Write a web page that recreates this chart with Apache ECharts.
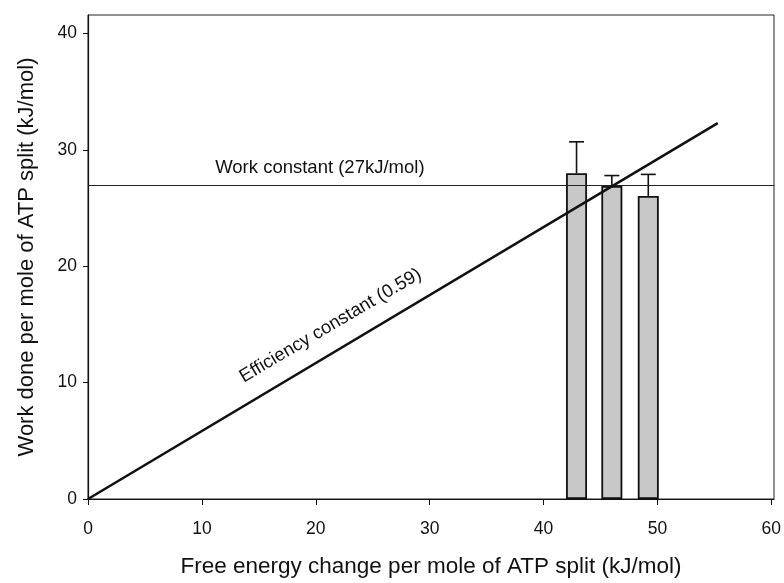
<!DOCTYPE html>
<html>
<head>
<meta charset="utf-8">
<script src="https://cdn.jsdelivr.net/npm/echarts@6/dist/echarts.min.js"></script>
<style>html,body{margin:0;padding:0;background:#fff;}#c{width:784px;height:583px;}</style>
</head>
<body>
<div id="c"></div>
<script>
// ---- data ----
var xTicks = [0, 10, 20, 30, 40, 50, 60];
var yTicks = [0, 10, 20, 30, 40];
var barX = [42.9, 46.0, 49.2];          // free energy change (kJ/mol)
var barMeans = [28.0, 26.9, 26.05];     // work done (kJ/mol)
var barUpper = [30.7, 27.8, 27.9];      // top of error bars
var effLineX = [0, 55.3];
var effLineY = [0, 32.3];
var workConstant = 27;
var workLabel = 'Work constant (27kJ/mol)';
var effLabel = 'Efficiency constant (0.59)';
var xTitle = 'Free energy change per mole of ATP split (kJ/mol)';
var yTitle = 'Work done per mole of ATP split (kJ/mol)';

// ---- layout / style constants ----
var FONT = "'Liberation Sans', Arial, Helvetica, sans-serif";
var X_MAX = 60.24, Y_MAX = 41.6;
var workLabelAt = [20.36, 28.5];
var effLabelAt = [21.3, 14.9];

var chart = echarts.init(document.getElementById('c'), null, {renderer: 'canvas'});

var barData = barX.map(function (x, i) { return [x, barMeans[i]]; });
var errData = barX.map(function (x, i) { return [x, barMeans[i], barUpper[i]]; });
var effData = effLineX.map(function (x, i) { return [x, effLineY[i]]; });

var option = {
  backgroundColor: '#fff',
  animation: false,
  grid: {left: 88, right: 7, top: 15, bottom: 78, show: true, borderColor: '#222', borderWidth: 1, backgroundColor: 'transparent'},
  xAxis: {
    type: 'value', min: 0, max: X_MAX,
    name: xTitle, nameLocation: 'middle', nameGap: 56,
    nameTextStyle: {fontFamily: FONT, fontSize: 22.5, color: '#111'},
    axisLine: {show: true, onZero: false, lineStyle: {color: '#111', width: 1.2}},
    axisTick: {show: true, length: 6, lineStyle: {color: '#111', width: 1}, customValues: xTicks},
    axisLabel: {fontFamily: FONT, fontSize: 17.5, color: '#111', margin: 21, customValues: xTicks},
    splitLine: {show: false}
  },
  yAxis: {
    type: 'value', min: 0, max: Y_MAX,
    name: yTitle, nameLocation: 'middle', nameGap: 50, nameRotate: 90,
    nameTextStyle: {fontFamily: FONT, fontSize: 22, color: '#111'},
    axisLine: {show: true, onZero: false, lineStyle: {color: '#111', width: 1.2}},
    axisTick: {show: true, length: 5, lineStyle: {color: '#111', width: 1}, customValues: yTicks},
    axisLabel: {fontFamily: FONT, fontSize: 17.5, color: '#111', margin: 11, customValues: yTicks},
    splitLine: {show: false}
  },
  series: [
    {
      type: 'bar',
      data: barData,
      barWidth: 21,
      itemStyle: {color: '#c8c8c8', borderColor: '#111', borderWidth: 1.8},
      z: 3
    },
    {
      type: 'custom',
      data: errData,
      z: 4,
      renderItem: function (params, api) {
        var x = api.value(0);
        var lo = api.coord([x, api.value(1)]);
        var hi = api.coord([x, api.value(2)]);
        var hw = 7.5;
        return {
          type: 'group',
          children: [
            {type: 'line', shape: {x1: lo[0], y1: lo[1], x2: hi[0], y2: hi[1]}, style: {stroke: '#111', lineWidth: 1.6}},
            {type: 'line', shape: {x1: hi[0] - hw, y1: hi[1], x2: hi[0] + hw, y2: hi[1]}, style: {stroke: '#111', lineWidth: 1.6}}
          ]
        };
      }
    },
    {
      type: 'line',
      data: effData,
      showSymbol: false,
      symbol: 'none',
      lineStyle: {color: '#111', width: 2.6},
      z: 5,
      markLine: {
        silent: true,
        symbol: ['none', 'none'],
        label: {show: false},
        lineStyle: {color: '#222', width: 1.1, type: 'solid'},
        data: [[{coord: [0, workConstant]}, {coord: [X_MAX, workConstant]}]]
      },
      markPoint: {
        silent: true,
        symbol: 'circle',
        symbolSize: 0,
        data: [
          {coord: workLabelAt, label: {show: true, formatter: workLabel, fontFamily: FONT, fontSize: 18.5, color: '#111', position: 'inside', align: 'center', verticalAlign: 'middle'}},
          {coord: effLabelAt, label: {show: true, formatter: effLabel, fontFamily: FONT, fontSize: 18.5, color: '#111', position: 'inside', align: 'center', verticalAlign: 'middle', rotate: 30.5}}
        ]
      }
    }
  ]
};
chart.setOption(option);
</script>
</body>
</html>
